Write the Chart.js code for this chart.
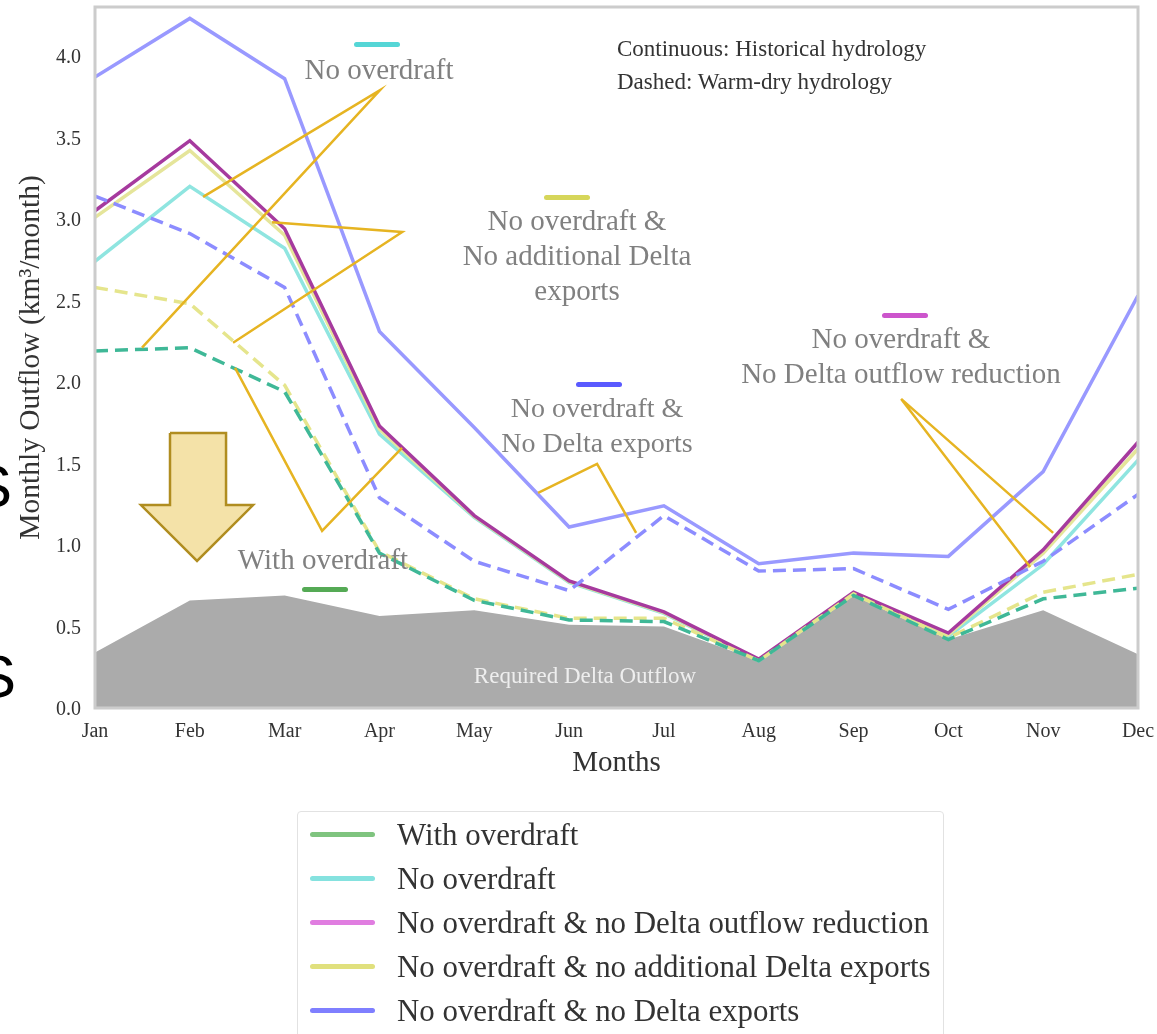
<!doctype html>
<html>
<head>
<meta charset="UTF-8">
<title>Monthly Outflow</title>
<script src="https://cdn.jsdelivr.net/npm/chart.js@4"></script>
<style>
  body { margin: 0; background: #fff; overflow: hidden; }
  #wrap { position: relative; width: 1157px; height: 1034px; overflow: hidden; font-family: "Liberation Serif", serif; }
  #canvas { position: absolute; left: 0; top: 0; }
  .big { position: absolute; font-family: "Liberation Sans", sans-serif; font-size: 60px; line-height: 60px; color: #000; }
  .note { position: absolute; transform: translate(-50%, -50%); white-space: nowrap; font-size: 29px; color: #808080; }
  .top { position: absolute; transform: translateY(-50%); white-space: nowrap; font-size: 23px; color: #333; }
  .dash { position: absolute; width: 46px; height: 5px; border-radius: 3px; }
  #legend { position: absolute; left: 297px; top: 811px; width: 645px; height: 240px; border: 1px solid #e2e2e2; border-radius: 4px; }
  #legend div { position: absolute; left: 99px; transform: translateY(-50%); white-space: nowrap; font-size: 30.9px; color: #333; }
  #legend span { position: absolute; left: 12px; width: 65px; height: 5px; border-radius: 3px; }
</style>
</head>
<body>
<div id="wrap">
  <div class="big" style="left:-28px;top:457px">S</div>
  <div class="big" style="left:-24px;top:647px">S</div>
  <canvas id="canvas" width="1157" height="1034"></canvas>

  <div class="dash" style="left:354px;top:42px;background:#55d6d6"></div>
  <div class="note" style="left:379px;top:69px">No overdraft</div>
  <div class="dash" style="left:544px;top:195px;background:#d6d65a"></div>
  <div class="note" style="left:577px;top:220px">No overdraft &amp;</div>
  <div class="note" style="left:577px;top:255px">No additional Delta</div>
  <div class="note" style="left:577px;top:290px">exports</div>
  <div class="dash" style="left:576px;top:382px;background:#5a5aff"></div>
  <div class="note" style="left:597px;top:408px;font-size:28px">No overdraft &amp;</div>
  <div class="note" style="left:597px;top:443px;font-size:28px">No Delta exports</div>
  <div class="dash" style="left:882px;top:313px;background:#cc55cc"></div>
  <div class="note" style="left:901px;top:338px">No overdraft &amp;</div>
  <div class="note" style="left:901px;top:373px">No Delta outflow reduction</div>
  <div class="note" style="left:323px;top:559px">With overdraft</div>
  <div class="dash" style="left:302px;top:587px;background:#55aa55"></div>
  <div class="note" style="left:585px;top:676px;font-size:23px;color:#eee">Required Delta Outflow</div>
  <div class="top" style="left:617px;top:49px">Continuous: Historical hydrology</div>
  <div class="top" style="left:617px;top:82px">Dashed: Warm-dry hydrology</div>

  <div id="legend"></div>
</div>

<script>
var months = ['Jan','Feb','Mar','Apr','May','Jun','Jul','Aug','Sep','Oct','Nov','Dec'];

var required      = [0.34,0.66,0.69,0.565,0.60,0.51,0.50,0.29,0.69,0.42,0.60,0.33];

var noOverdraft   = [2.74,3.20,2.82,1.68,1.17,0.77,0.58,0.29,0.70,0.44,0.88,1.52];
var noReduction   = [3.05,3.48,2.94,1.73,1.18,0.78,0.59,0.30,0.71,0.46,0.97,1.63];
var noAdditional  = [3.01,3.42,2.90,1.71,1.175,0.775,0.585,0.295,0.70,0.45,0.95,1.59];
var noExports     = [3.87,4.23,3.86,2.31,1.72,1.11,1.24,0.885,0.95,0.93,1.45,2.53];

var dryOverdraft  = [2.19,2.21,1.94,0.95,0.66,0.54,0.53,0.29,0.69,0.42,0.67,0.735];
var dryAdditional = [2.58,2.48,1.98,0.96,0.67,0.55,0.55,0.29,0.70,0.43,0.71,0.82];
var dryExports    = [3.14,2.91,2.58,1.29,0.90,0.72,1.18,0.84,0.855,0.605,0.90,1.31];

var legendNames  = ['With overdraft','No overdraft','No overdraft & no Delta outflow reduction','No overdraft & no additional Delta exports','No overdraft & no Delta exports'];
var legendColors = ['#7fc47f','#85e2df','#e07de0','#e0e07d','#7f7fff'];

// leader lines, x in months from Jan, y in km3/month
var leaders = [
  [[1.14,3.135],[3.006,3.79],[0.496,2.21]],
  [[1.867,2.98],[3.24,2.92],[1.456,2.24]],
  [[1.477,2.086],[2.395,1.086],[3.238,1.595]],
  [[4.673,1.319],[5.295,1.497],[5.707,1.074]],
  [[10.105,1.074],[8.502,1.896],[9.863,0.865]]
];
var arrow = [[0.791,1.687],[1.382,1.687],[1.382,1.245],[1.667,1.245],[1.076,0.902],[0.485,1.245],[0.791,1.245],[0.791,1.687]];

function pts(values) {
  return values.map(function(v, i) { return {x: i, y: v}; });
}
function pairs(list) {
  return list.map(function(p) { return {x: p[0], y: p[1]}; });
}
function line(label, values, color, dashed) {
  return {
    label: label, data: pts(values), borderColor: color, borderWidth: 3.5,
    borderDash: dashed ? [13, 7] : [], pointRadius: 0, tension: 0, fill: false,
    borderJoinStyle: 'miter'
  };
}

// first in the list is drawn on top
var datasets = [];
leaders.forEach(function(l, i) {
  datasets.push({label: 'leader ' + i, data: pairs(l), borderColor: '#e6b422', borderWidth: 2.5, pointRadius: 0, tension: 0, fill: false, borderJoinStyle: 'miter'});
});
datasets.push({label: 'arrow', data: pairs(arrow), borderColor: '#b08d20', borderWidth: 2.5, backgroundColor: '#f4e2a8', pointRadius: 0, tension: 0, fill: 'shape', borderJoinStyle: 'miter', clip: false});
datasets.push(line('With overdraft (warm-dry)', dryOverdraft, '#3fb897', true));
datasets.push(line('No additional (warm-dry)', dryAdditional, '#e5e58c', true));
datasets.push(line('No Delta exports (warm-dry)', dryExports, '#8c8cff', true));
datasets.push(line('No overdraft & no Delta outflow reduction', noReduction, '#a63a9e', false));
datasets.push(line('No overdraft & no additional Delta exports', noAdditional, '#e5e59a', false));
datasets.push(line('No overdraft', noOverdraft, '#8fe5e0', false));
datasets.push(line('No overdraft & no Delta exports', noExports, '#9999ff', false));
datasets.push({label: 'Required Delta Outflow', data: pts(required), borderWidth: 0, borderColor: '#ababab', backgroundColor: '#ababab', pointRadius: 0, tension: 0, fill: 'origin'});

var frame = {
  id: 'frame',
  afterDraw: function(chart) {
    var a = chart.chartArea, ctx = chart.ctx;
    ctx.save();
    ctx.strokeStyle = '#cccccc';
    ctx.lineWidth = 3;
    ctx.strokeRect(a.left, a.top, a.right - a.left, a.bottom - a.top);
    ctx.restore();
  }
};

var tickFont = {family: 'Liberation Serif', size: 20};

new Chart(document.getElementById('canvas').getContext('2d'), {
  type: 'line',
  data: {datasets: datasets},
  plugins: [frame],
  options: {
    responsive: false,
    animation: false,
    layout: {padding: {left: 0, top: 7, right: 19, bottom: 253}},
    plugins: {legend: {display: false}, tooltip: {enabled: false}},
    scales: {
      x: {
        type: 'linear', min: 0, max: 11,
        grid: {display: false}, border: {display: false},
        afterFit: function(s) { s.height = 73; s.paddingLeft = 0; s.paddingRight = 0; },
        ticks: {
          stepSize: 1, autoSkip: false, maxRotation: 0, padding: 4, color: '#333', font: tickFont,
          callback: function(v) { return months[v]; }
        },
        title: {display: true, text: 'Months', color: '#333', font: {family: 'Liberation Serif', size: 29}, padding: 0}
      },
      y: {
        min: 0, max: 4.3,
        grid: {display: false}, border: {display: false},
        afterFit: function(s) { s.width = 95; s.paddingTop = 0; s.paddingBottom = 0; },
        ticks: {
          stepSize: 0.5, includeBounds: false, autoSkip: false, padding: 6, labelOffset: 2, color: '#333', font: tickFont,
          callback: function(v) { return v.toFixed(1); }
        },
        title: {display: true, text: 'Monthly Outflow (km\u00b3/month)', color: '#333', font: {family: 'Liberation Serif', size: 29.5}, padding: {top: 14, bottom: 0}}
      }
    }
  }
});

// legend box runs past the bottom of the page like in the original
var box = document.getElementById('legend');
legendNames.forEach(function(name, i) {
  var y = 23 + i * 44;
  var s = document.createElement('span');
  s.style.top = (y - 3) + 'px';
  s.style.background = legendColors[i];
  box.appendChild(s);
  var d = document.createElement('div');
  d.style.top = y + 'px';
  d.textContent = name;
  box.appendChild(d);
});
</script>
</body>
</html>
